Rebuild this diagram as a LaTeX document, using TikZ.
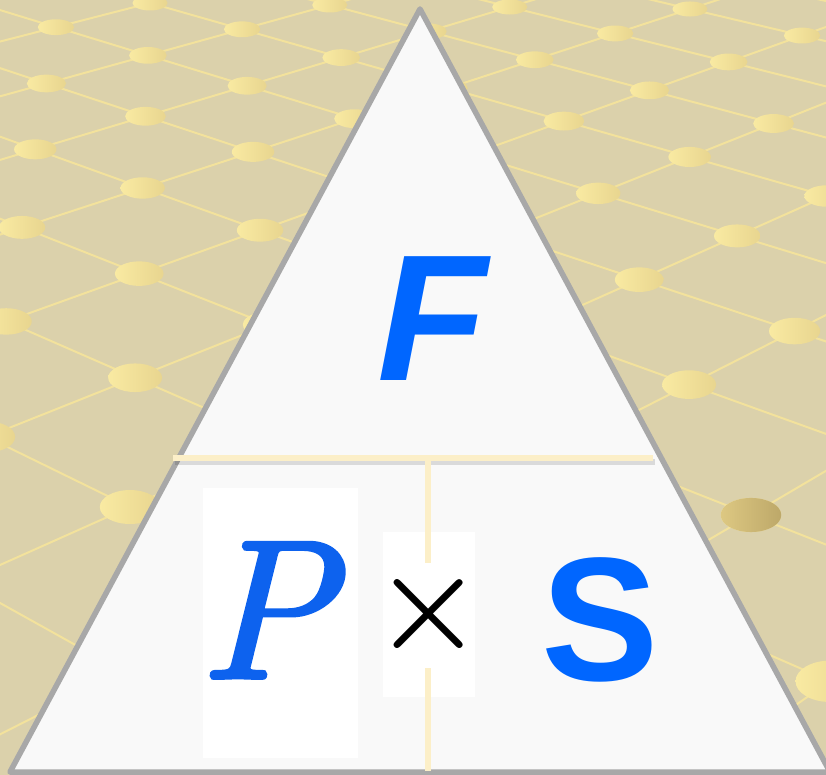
\documentclass[tikz,border=0pt]{standalone}
\usepackage{fontspec}
\usepackage{tikz}
\usetikzlibrary{positioning}
\newfontfamily\sansfont{Liberation Sans}
\newfontface\pletterfont{lmroman10-italic.otf}[FakeBold=2]
\definecolor{bgtan}{HTML}{DBD1AB}
\definecolor{gridline}{HTML}{F3E29C}
\definecolor{dotlight}{HTML}{F9EAA2}
\definecolor{dotdark}{HTML}{E8D58F}
\definecolor{dotdeepA}{HTML}{DDC882}
\definecolor{dotdeepB}{HTML}{BDA869}
\definecolor{triedge}{HTML}{A8A8A8}
\definecolor{trifill}{HTML}{F9F9F9}
\definecolor{barcream}{HTML}{FCEFC8}
\definecolor{letterblue}{HTML}{0066FF}
\definecolor{pblue}{HTML}{0D62EE}
% ground grid seen in perspective: (k,j) -> (\gx,\gy)
\newcommand\gridpoint[2]{%
  \pgfmathsetmacro\gd{1-0.035331*(#1)-0.034699*(#2)}%
  \pgfmathsetmacro\gx{(150+83.563*(#1)-96.001*(#2))/\gd}%
  \pgfmathsetmacro\gy{(3+25.245*(#1)+23.251*(#2))/\gd}%
}

\begin{document}
\begin{tikzpicture}[
    x=1pt,y=-1pt,
    grid line/.style={draw=gridline,line width=2pt},
    grid dot/.style={left color=dotlight,right color=dotdark},
    letter/.style={inner sep=0pt,anchor=base west,text=letterblue}
  ]
  \useasboundingbox (0,0) rectangle (826,775);
  \clip (0,0) rectangle (826,775);
  \fill[bgtan] (0,0) rectangle (826,775);

  \foreach \j in {-7,...,9}{
    \gridpoint{-3}{\j}\let\ax\gx\let\ay\gy
    \gridpoint{13}{\j}
    \draw[grid line] (\ax,\ay) -- (\gx,\gy);
  }
  \foreach \k in {-3,...,13}{
    \gridpoint{\k}{-7}\let\ax\gx\let\ay\gy
    \gridpoint{\k}{9}
    \draw[grid line] (\ax,\ay) -- (\gx,\gy);
  }
  \foreach \k in {-3,...,13}{
    \foreach \j in {-7,...,9}{
      \gridpoint{\k}{\j}
      \pgfmathsetmacro\rx{17.5/\gd}
      \pgfmathsetmacro\ry{7.5/(\gd^1.5)}
      \shade[grid dot] (\gx,\gy) ellipse [x radius=\rx pt,y radius=\ry pt];
    }
  }
  \gridpoint{8}{4}
  \pgfmathsetmacro\rx{17.5/\gd}
  \pgfmathsetmacro\ry{7.5/(\gd^1.5)}
  \shade[left color=dotdeepA,right color=dotdeepB] (\gx,\gy) ellipse [x radius=\rx pt,y radius=\ry pt];

  \coordinate (apex) at (420,9);
  \coordinate (baseL) at (10,772);
  \coordinate (baseR) at (830,772);
  \draw[triedge,fill=trifill,line width=5.5pt,line join=round] (apex) -- (baseR) -- (baseL) -- cycle;

  \fill[white] (203,488) rectangle (358,758);
  \fill[white] (383,532) rectangle (475,697);

  \coordinate (barL) at (173,458);
  \coordinate (barR) at (653,458);
  \coordinate (barM) at (428,458);
  \coordinate (stemA) at (428,563);
  \coordinate (stemB) at (428,668);
  \coordinate (stemC) at (428,771);
  \draw[black,opacity=0.12,line width=6pt] ([shift={(2,4)}]barL) -- ([shift={(2,4)}]barR);
  \draw[barcream,line width=6pt] (barL) -- (barR);
  \draw[barcream,line width=6pt] (barM) -- (stemA);
  \draw[barcream,line width=6pt] (stemB) -- (stemC);

  \node[letter,font=\sansfont\bfseries\itshape\fontsize{180}{180}\selectfont] (F) at (377,380) {F};
  \node[letter,text=pblue,font=\pletterfont\fontsize{198}{198}\selectfont] (P) at (199,678) {P};
  \node[inner sep=0pt,font=\fontsize{126}{126}\selectfont\bfseries] (times) at (429,614) {×};
  \node[letter,font=\sansfont\bfseries\fontsize{176}{176}\selectfont] (S) at (541,680) {S};
\end{tikzpicture}
\end{document}
